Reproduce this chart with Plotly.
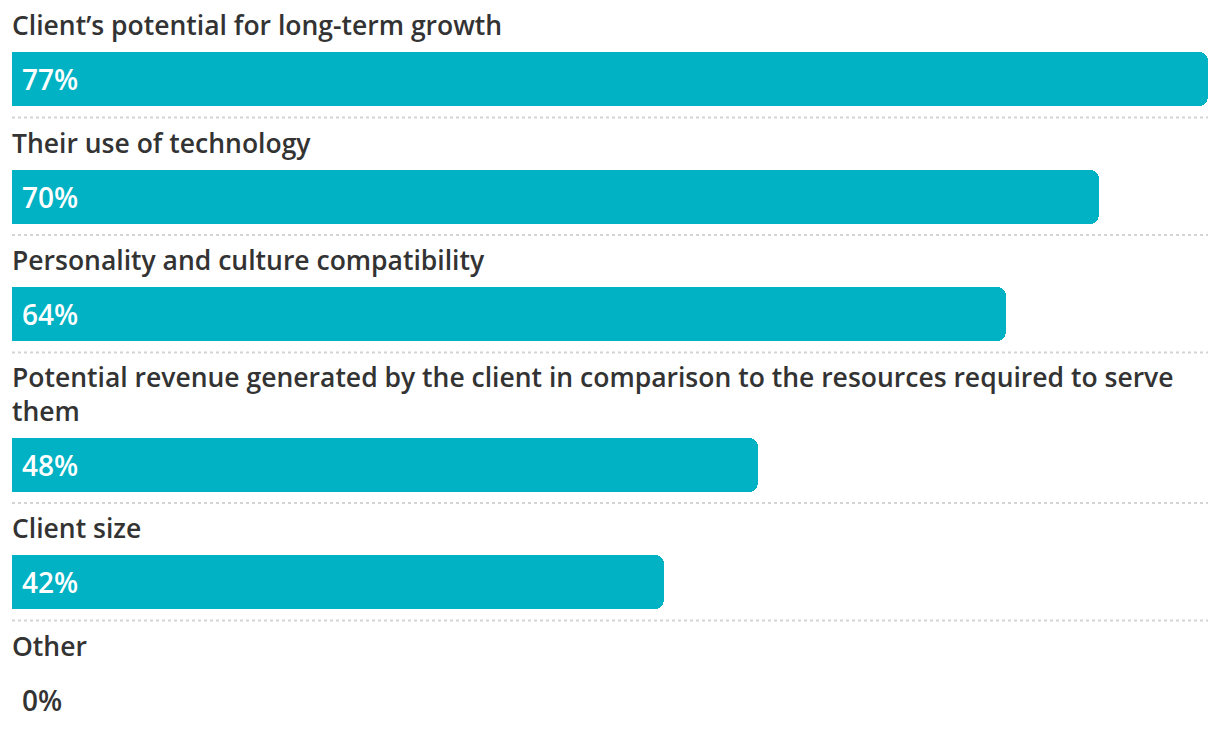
import plotly.graph_objects as go

categories = [
    "Client’s potential for long-term growth",
    "Their use of technology",
    "Personality and culture compatibility",
    "Potential revenue generated by the client in comparison to the resources required to serve<br>them",
    "Client size",
    "Other",
]
values = [77, 70, 64, 48, 42, 0]

BAR_COLOR = "#00B2C3"
TEXT_COLOR = "#333333"
FONT = "Open Sans"

W, H = 1220, 738
BODY = 8  # default page margin around the plot div
ROW_H = 117.5
LINE_H = 33
FIRST_LINE = 25
BAR_OFFSET = 54

# vertical layout in page pixel units on a reversed numeric axis
label_y, bar_y, sep_y = [], [], []
start = 0.0
for cat in categories:
    lines = cat.count("<br>") + 1
    label_y.append(start + FIRST_LINE + LINE_H * (lines - 1) / 2)
    last_line = start + FIRST_LINE + LINE_H * (lines - 1)
    bar_y.append(last_line + BAR_OFFSET)
    end = start + ROW_H + LINE_H * (lines - 1)
    sep_y.append(end)
    start = end

fig = go.Figure()
fig.add_trace(go.Bar(
    x=values, y=bar_y, orientation="h", width=54,
    marker=dict(color=BAR_COLOR, cornerradius=9, line=dict(width=0)),
    hoverinfo="skip", showlegend=False, cliponaxis=False,
))

annotations = []
for cat, ly, by, v in zip(categories, label_y, bar_y, values):
    annotations.append(dict(
        x=0, y=ly, xref="x", yref="y", text=cat, showarrow=False,
        xanchor="left", yanchor="middle", align="left", xshift=-2,
        font=dict(family=FONT, size=26.5, color=TEXT_COLOR, weight=600),
    ))
    annotations.append(dict(
        x=0, y=by, xref="x", yref="y", text=f"{v}%", showarrow=False,
        xanchor="left", yanchor="middle", xshift=8,
        font=dict(family=FONT, size=28, color="white" if v > 0 else TEXT_COLOR, weight=600),
    ))

shapes = []
for sy in sep_y[:-1]:
    shapes.append(dict(
        type="line", xref="paper", yref="y", x0=0, x1=1, y0=sy, y1=sy,
        line=dict(color="#d4d4d4", width=2, dash="dot"),
    ))

fig.update_layout(
    width=W, height=H,
    margin=dict(l=12 - BODY, r=W - 1208 + BODY, t=0, b=0),
    paper_bgcolor="white", plot_bgcolor="white",
    xaxis=dict(range=[0, max(values)], visible=False, fixedrange=True),
    yaxis=dict(range=[H + BODY, BODY], visible=False, fixedrange=True),
    annotations=annotations, shapes=shapes,
    bargap=0,
)

fig.write_html("out.html")
